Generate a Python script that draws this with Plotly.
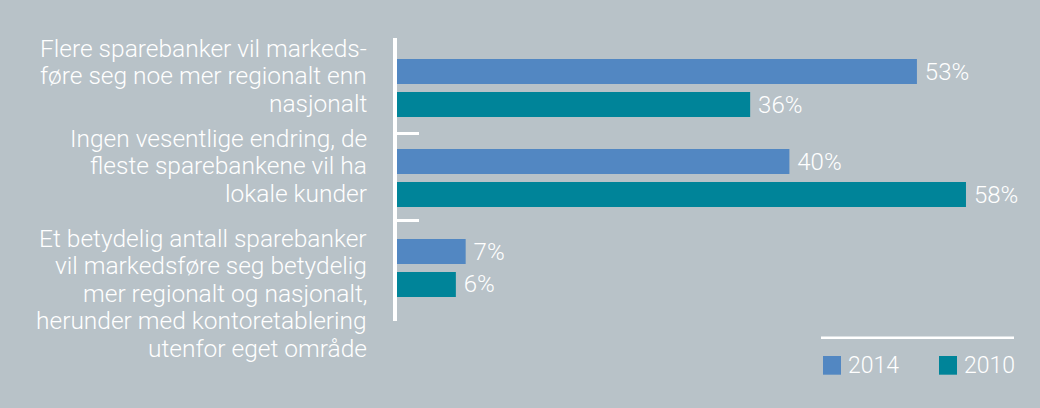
import plotly.graph_objects as go

categories = [
    "Flere sparebanker vil markeds-<br>føre seg noe mer regionalt enn<br>nasjonalt",
    "Ingen vesentlige endring, de<br>fleste sparebankene vil ha<br>lokale kunder",
    "Et betydelig antall sparebanker<br>vil markedsføre seg betydelig<br>mer regionalt og nasjonalt,<br>herunder med kontoretablering<br>utenfor eget område",
]
series_names = ["2014", "2010"]
values_2014 = [53, 40, 7]
values_2010 = [36, 58, 6]
colors = ["#5287c2", "#008499"]

BG = "#b8c2c8"
FONT = "Roboto"
W, H = 1040, 408
L, R, T, B = 397, 5, 38, 87
pw, ph = W - L - R, H - T - B

ypos = list(range(len(categories)))

fig = go.Figure()
for name, vals, col in zip(series_names, [values_2014, values_2010], colors):
    fig.add_trace(go.Bar(
        y=ypos, x=vals, orientation="h", name=name,
        marker=dict(color=col, line=dict(width=0)),
        text=[f"\u2009{v}%" for v in vals], textposition="outside",
        textfont=dict(color="white", size=24, family=FONT, weight=300),
        constraintext="none", cliponaxis=False, showlegend=False,
        hoverinfo="skip",
    ))

def px_x(px):
    return (px - L) / pw

def px_y(py):
    return (H - B - py) / ph

annotations = []
first_baseline = [56.7, 146.7, 246.7]
line_step = 27.5
LABEL_SIZE = 24.5
for cat, fb in zip(categories, first_baseline):
    for i, line in enumerate(cat.split("<br>")):
        base = fb + i * line_step
        annotations.append(dict(
            text=line, xref="paper", yref="paper", x=px_x(369), y=px_y(base - 8.5),
            xanchor="right", yanchor="middle", align="right", showarrow=False,
            font=dict(color="white", size=LABEL_SIZE, family=FONT, weight=300),
        ))

shapes = [dict(type="line", xref="paper", yref="paper",
               x0=px_x(821), x1=px_x(1014), y0=px_y(337.7), y1=px_y(337.7),
               line=dict(color="white", width=2.5))]
leg_x = [823, 939]
for name, col, lx in zip(series_names, colors, leg_x):
    shapes.append(dict(type="rect", xref="paper", yref="paper",
                       x0=px_x(lx), x1=px_x(lx + 18), y0=px_y(374.7), y1=px_y(356),
                       fillcolor=col, line=dict(width=0)))
    annotations.append(dict(
        text=name, xref="paper", yref="paper", x=px_x(lx + 23), y=px_y(365.5),
        xanchor="left", yanchor="middle", showarrow=False,
        font=dict(color="white", size=23, family=FONT, weight=300),
    ))

fig.update_layout(
    width=W, height=H,
    margin=dict(l=L, r=R, t=T, b=B, pad=0),
    paper_bgcolor=BG, plot_bgcolor=BG,
    barmode="group", bargap=0.267, bargroupgap=0.242,
    xaxis=dict(range=[0, pw / 9.81], visible=False, showgrid=False, zeroline=False),
    yaxis=dict(range=[2.589, -0.556], showgrid=False, zeroline=False,
               showline=True, linecolor="white", linewidth=4,
               tickmode="array", tickvals=[0.5, 1.475], ticktext=["", ""],
               ticks="inside", ticklen=22, tickwidth=2.5, tickcolor="white"),
    annotations=annotations, shapes=shapes,
    showlegend=False,
)

fig.write_html(
    "out.html",
    config={"displayModeBar": False},
    post_script="document.body.style.margin='0';document.body.style.background='" + BG + "';",
)
